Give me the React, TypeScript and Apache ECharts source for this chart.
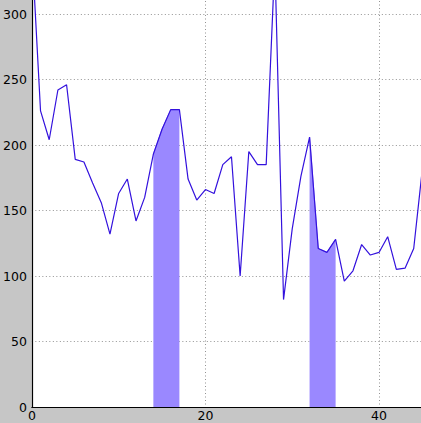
import React, { useEffect, useRef } from "react";
import * as echarts from "echarts";

const xValues: number[] = [
  0, 1, 2, 3, 4, 5, 6, 7, 8, 9, 10, 11, 12, 13, 14, 15, 16, 17, 18, 19, 20, 21, 22,
  23, 24, 25, 26, 27, 28, 29, 30, 31, 32, 33, 34, 35, 36, 37, 38, 39, 40, 41, 42, 43,
  44, 45,
];
const yValues: number[] = [
  350, 226, 204, 242, 246, 189, 187, 171, 156, 132, 163, 174, 142, 160, 193, 212, 227,
  227, 174, 158, 166, 163, 185, 191, 100, 195, 185, 185, 340, 82, 136, 176, 206, 121,
  118, 128, 96, 104, 124, 116, 118, 130, 105, 106, 121, 182,
];
const fillRanges: [number, number][] = [
  [14, 17],
  [32, 35],
];
const yTicks: number[] = [0, 50, 100, 150, 200, 250, 300, 350];
const xTicks: number[] = [0, 20, 40];

// container extends beyond the visible page so the plot is cropped at top/right
const OFF_TOP = 60;
const BOX_W = 440;
const BOX_H = 423 + OFF_TOP;

export default function App() {
  const ref = useRef<HTMLDivElement>(null);
  useEffect(() => {
    if (!ref.current) return;
    const chart = echarts.init(ref.current, null, { renderer: "svg" });
    const lineData = xValues.map((x, i) => [x, yValues[i]]);
    const fillSeries = fillRanges.map(([a, b], k) => ({
      type: "line" as const,
      name: "fill" + k,
      data: xValues
        .map((x, i) => [x, yValues[i]])
        .filter(([x]) => x >= a && x <= b),
      showSymbol: false,
      symbol: "none",
      lineStyle: { width: 0.8, color: "#7766ee" },
      areaStyle: { color: "#9a88ff", opacity: 1, origin: "start" as const },
      z: 1,
      silent: true,
    }));
    const axisFont = { fontFamily: "DejaVu Sans", fontSize: 12.5, color: "#000" };
    const bottomY = 407 + OFF_TOP;
    chart.setOption({
      animation: false,
      backgroundColor: "#c6c6c6",
      grid: {
        left: 30,
        bottom: BOX_H - bottomY,
        top: bottomY - yTicks[yTicks.length - 1] * 1.31,
        right: BOX_W - (30 + 45 * 8.72),
        show: true,
        backgroundColor: "#ffffff",
        borderWidth: 0,
        containLabel: false,
      },
      xAxis: {
        type: "value",
        min: xTicks[0],
        max: 45,
        interval: 20,
        axisLine: { show: true, lineStyle: { color: "#000", width: 1.2 } },
        axisTick: { show: false },
        axisLabel: { ...axisFont, margin: 2, showMaxLabel: false },
        splitLine: {
          show: true,
          lineStyle: { color: "#777", width: 0.8, type: [1, 2.5] },
        },
      },
      yAxis: {
        type: "value",
        min: yTicks[0],
        max: yTicks[yTicks.length - 1],
        interval: 50,
        axisLine: { show: true, lineStyle: { color: "#000", width: 1.2 } },
        axisTick: { show: false },
        axisLabel: { ...axisFont, margin: 5, showMaxLabel: false },
        splitLine: {
          show: true,
          lineStyle: { color: "#777", width: 0.8, type: [1, 2.5] },
        },
      },
      series: [
        ...fillSeries,
        {
          type: "line",
          name: "values",
          data: lineData,
          showSymbol: false,
          symbol: "none",
          lineStyle: { color: "#3311dd", width: 1.2 },
          z: 3,
        },
      ],
    });
    return () => chart.dispose();
  }, []);
  return (
    <div
      ref={ref}
      style={{ position: "fixed", left: 0, top: -OFF_TOP, width: BOX_W, height: BOX_H }}
    />
  );
}
